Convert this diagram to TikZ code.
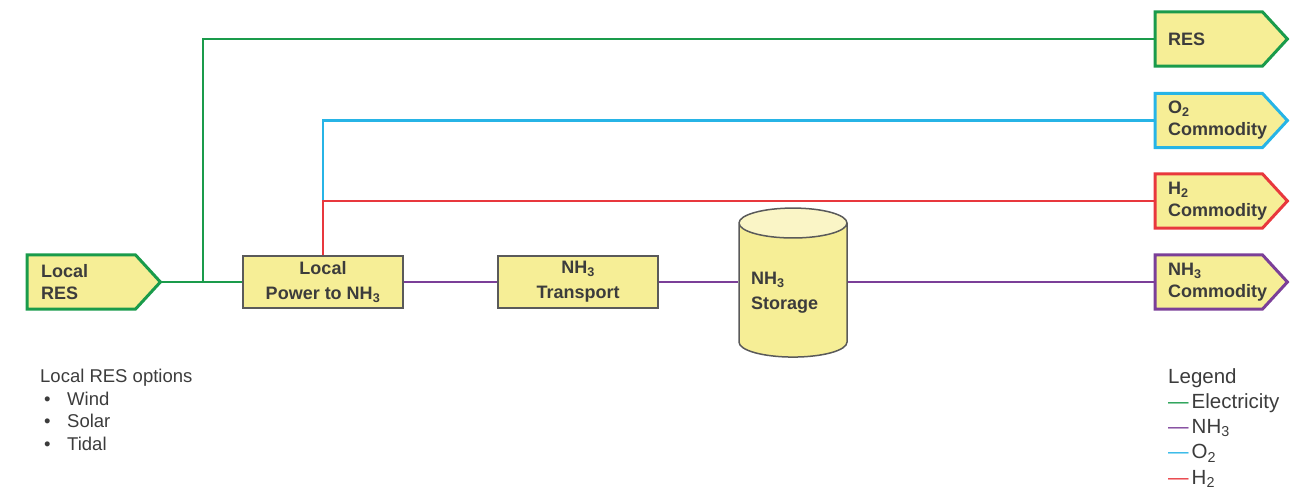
\documentclass[tikz,border=0pt]{standalone}
\usepackage{fontspec}
\setmainfont{Liberation Sans}
\usetikzlibrary{shapes.geometric,backgrounds,positioning}
\definecolor{elec}{HTML}{1A9B4B}
\definecolor{amm}{HTML}{7B3F98}
\definecolor{oxy}{HTML}{27B4E6}
\definecolor{hyd}{HTML}{E8383D}
\definecolor{boxyellow}{HTML}{F6EE96}
\definecolor{topyellow}{HTML}{FAF5C6}
\definecolor{boxgray}{HTML}{5A5A5A}
\definecolor{txtgray}{HTML}{3C3C3C}
\newcommand{\tagfont}{\fontsize{18}{22}\selectfont\bfseries}
\newcommand{\unitfont}{\fontsize{18}{25}\selectfont\bfseries}
\tikzset{
  flow/.style={line width=2.5pt},
  tagbox/.style={minimum height=54, minimum width=107, inner xsep=13, inner ysep=0,
    text width=81, align=left, anchor=west, font=\tagfont, text=txtgray},
  tagline/.style={line width=3pt, fill=boxyellow, line join=miter},
  unit/.style={draw=boxgray, line width=1.5pt, fill=boxyellow, minimum width=160,
    minimum height=52, align=center, font=\unitfont, text=txtgray},
}
\begin{document}
\begin{tikzpicture}[x=1pt,y=-1pt]
  \useasboundingbox (0,0) rectangle (1303,491);
  % tags left and right
  \node[tagbox, minimum width=108, inner xsep=14, text width=80] (lres) at (27,282) {Local\\RES};
  \node[tagbox] (res) at (1155,39) {RES};
  \node[tagbox] (o2c) at (1155,120.5) {O\textsubscript{2}\\Commodity};
  \node[tagbox] (h2c) at (1155,201) {H\textsubscript{2}\\Commodity};
  \node[tagbox] (nh3c) at (1155,282) {NH\textsubscript{3}\\Commodity};
  \begin{scope}[on background layer]
    \foreach \n/\c in {lres/elec,res/elec,o2c/oxy,h2c/hyd,nh3c/amm}
      \draw[tagline, draw=\c] (\n.north west) -- (\n.north east) -- ([xshift=25]\n.east)
        -- (\n.south east) -- (\n.south west) -- cycle;
  \end{scope}
  \coordinate (lrestip) at ([xshift=25]lres.east);
  % process units
  \node[unit] (power) at (323,282) {Local\\Power to NH\textsubscript{3}};
  \node[unit] (trans) at (578,282) {NH\textsubscript{3}\\Transport};
  \node[cylinder, shape border rotate=90, draw=boxgray, line width=1.5pt,
    cylinder uses custom fill, cylinder body fill=boxyellow, cylinder end fill=topyellow,
    minimum width=108, minimum height=149, aspect=0.33, text width=84, align=left,
    font=\unitfont, text=txtgray] (stor) at (793,293) {NH\textsubscript{3}\\Storage};
  % flows
  \coordinate (split) at (203,282);
  \draw[flow, elec] (lrestip) -- (power.west);
  \draw[flow, elec] (split) |- (res.west);
  \draw[flow, oxy] (power.north |- h2c.west) |- (o2c.west);
  \draw[flow, hyd] (power.north) |- (h2c.west);
  \draw[flow, amm] (power.east) -- (trans.west);
  \draw[flow, amm] (trans.east) -- (stor.west |- trans.east);
  \draw[flow, amm] (stor.east |- nh3c.west) -- (nh3c.west);
  % notes
  \node[anchor=north west, inner sep=0, align=left, text=txtgray,
    font=\fontsize{18.5}{22.5}\selectfont] (opts) at (40,369)
    {Local RES options\\
     \hspace*{4pt}\makebox[23pt][l]{\textbullet}Wind\\
     \hspace*{4pt}\makebox[23pt][l]{\textbullet}Solar\\
     \hspace*{4pt}\makebox[23pt][l]{\textbullet}Tidal};
  \node[anchor=north west, inner sep=0, align=left, text=txtgray,
    font=\fontsize{20.5}{25.3}\selectfont] (legend) at (1168,368)
    {Legend\\
     \textcolor{elec}{—}\hspace{3pt}Electricity\\
     \textcolor{amm}{—}\hspace{3pt}NH\textsubscript{3}\\
     \textcolor{oxy}{—}\hspace{3pt}O\textsubscript{2}\\
     \textcolor{hyd}{—}\hspace{3pt}H\textsubscript{2}};
\end{tikzpicture}
\end{document}
